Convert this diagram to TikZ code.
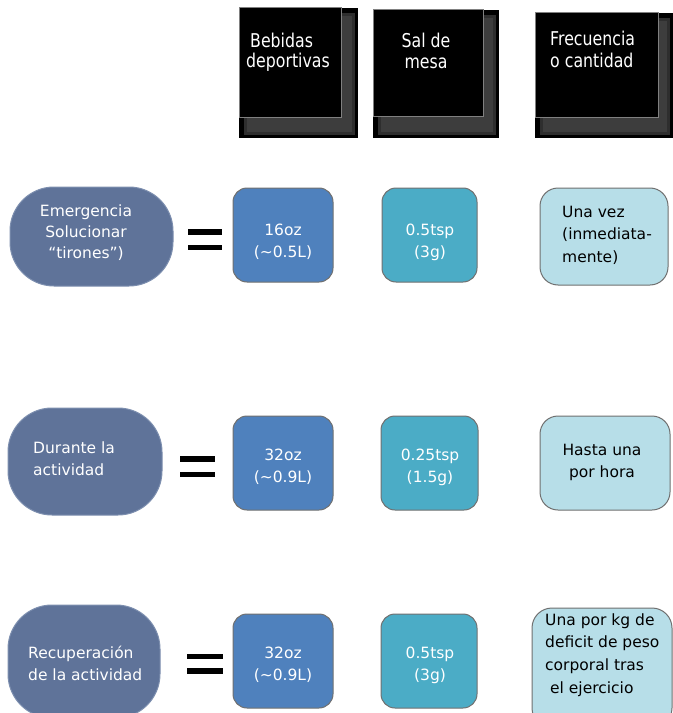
\documentclass[tikz,border=0pt]{standalone}
\usepackage{fontspec}
\newfontfamily\bodyf{DejaVu Sans}
\newfontfamily\headf[FakeStretch=0.83]{DejaVu Sans}
\definecolor{stad}{HTML}{5F7399}
\definecolor{stadline}{HTML}{7D8FAF}
\definecolor{bluef}{HTML}{4F81BD}
\definecolor{tealf}{HTML}{4BACC6}
\definecolor{lightf}{HTML}{B7DEE8}
\definecolor{boxline}{HTML}{707070}
\newcommand{\tl}{\rule{0pt}{12bp}}
\newcommand{\htl}{\rule{0pt}{15bp}}
\tikzset{
  stadium/.style={fill=stad, draw=stadline, line width=1bp, rounded corners=44bp},
  bluebox/.style={fill=bluef, draw=boxline, line width=1bp, rounded corners=14bp},
  tealbox/.style={fill=tealf, draw=boxline, line width=1bp, rounded corners=14bp},
  lightbox/.style={fill=lightf, draw=boxline, line width=1bp, rounded corners=18bp},
  wtxt/.style={inner sep=0pt, text=white, font={\bodyf\fontsize{15.5bp}{22bp}\selectfont}},
  ktxt/.style={inner sep=0pt, text=black, font={\bodyf\fontsize{15.5bp}{22bp}\selectfont}},
  htxt/.style={inner sep=0pt, text=white, font={\headf\fontsize{19bp}{20bp}\selectfont}},
  eqbar/.style={fill=black},
}
\newcommand{\headbox}[4]{%
  % #1,#2 inner top-left; #3 inner bottom-right x,y ; #4 outer bottom-right
  \fill[black] (#1) rectangle (#4);
  \fill[black!82] ($(#1)+(5,5)$) rectangle ($(#4)+(-3,-3)$);
  \fill[black!76] ($(#1)+(8,8)$) rectangle ($(#4)+(-6,-6)$);
  \fill[black] (#1) rectangle (#3);
  \draw[black!50, line width=1bp] (#1) rectangle (#3);
}
\usetikzlibrary{calc}
\begin{document}
\begin{tikzpicture}[x=1bp, y=-1bp]
\useasboundingbox (0,0) rectangle (673,713);
\clip (0,0) rectangle (673,713);
\fill[white] (0,0) rectangle (673,713);

% headers
\headbox{239,8}{}{341,118}{358,138}
\headbox{373,10}{}{483,117}{499,138}
\headbox{535,13}{}{658,118}{673,138}
\node[htxt, anchor=north west, align=left] (h1) at (246,32) {\htl\hspace{4bp}Bebidas\\deportivas};
\node[htxt, anchor=north, align=center, font={\headf\fontsize{19bp}{21bp}\selectfont}] (h2) at (426,32) {\htl Sal de\\mesa};
\node[htxt, anchor=north west, align=left, font={\headf\fontsize{19bp}{22bp}\selectfont}] (h3) at (550,30) {\htl Frecuencia\\o cantidad};

% row 1
\draw[stadium] (10,187) rectangle (173,286);
\node[wtxt, anchor=north, align=center, font={\bodyf\fontsize{15.5bp}{21bp}\selectfont}] (s1) at (86,204) {\tl Emergencia\\Solucionar\\“tirones”)};
\fill[eqbar] (188,229) rectangle (222,234.5);
\fill[eqbar] (188,244.5) rectangle (222,250);
\draw[bluebox] (233,188) rectangle (333,282);
\node[wtxt, anchor=north, align=center] (b1) at (283,223) {\tl 16oz\\(\textasciitilde0.5L)};
\draw[tealbox] (382,188) rectangle (477,282);
\node[wtxt, anchor=north, align=center] (t1) at (430,223) {\tl 0.5tsp\\(3g)};
\draw[lightbox] (540,188) rectangle (668,285);
\node[ktxt, anchor=north west, align=left, font={\bodyf\fontsize{15.5bp}{22.5bp}\selectfont}] (l1) at (562,205) {\tl Una vez\\(inmediata-\\mente)};

% row 2
\draw[stadium] (8,408) rectangle (162,515);
\node[wtxt, anchor=north west, align=left] (s2) at (33,441) {\tl Durante la\\actividad};
\fill[eqbar] (180,456) rectangle (215,461.5);
\fill[eqbar] (180,471.5) rectangle (215,477);
\draw[bluebox] (233,416) rectangle (333,510);
\node[wtxt, anchor=north, align=center] (b2) at (283,448) {\tl 32oz\\(\textasciitilde0.9L)};
\draw[tealbox] (381,416) rectangle (478,510);
\node[wtxt, anchor=north, align=center] (t2) at (430,448) {\tl 0.25tsp\\(1.5g)};
\draw[lightbox] (540,416) rectangle (670,510);
\node[ktxt, anchor=north, align=center] (l2) at (602,443) {\tl Hasta una\\por hora};

% row 3
\draw[stadium] (8,605) rectangle (160,718);
\node[wtxt, anchor=north west, align=left] (s3) at (28,646) {\tl Recuperación\\de la actividad};
\fill[eqbar] (187,653.5) rectangle (223,659);
\fill[eqbar] (187,668) rectangle (223,673.5);
\draw[bluebox] (233,614) rectangle (333,708);
\node[wtxt, anchor=north, align=center] (b3) at (283,646) {\tl 32oz\\(\textasciitilde0.9L)};
\draw[tealbox] (381,614) rectangle (477,708);
\node[wtxt, anchor=north, align=center] (t3) at (430,646) {\tl 0.5tsp\\(3g)};
\draw[lightbox, rounded corners=20bp] (532,608) rectangle (672,728);
\node[ktxt, anchor=north west, align=left, font={\bodyf\fontsize{15.5bp}{22.7bp}\selectfont}] (l3) at (545,613) {\tl Una por kg de\\deficit de peso\\corporal tras\\\hspace{5bp}el ejercicio};
\end{tikzpicture}
\end{document}
